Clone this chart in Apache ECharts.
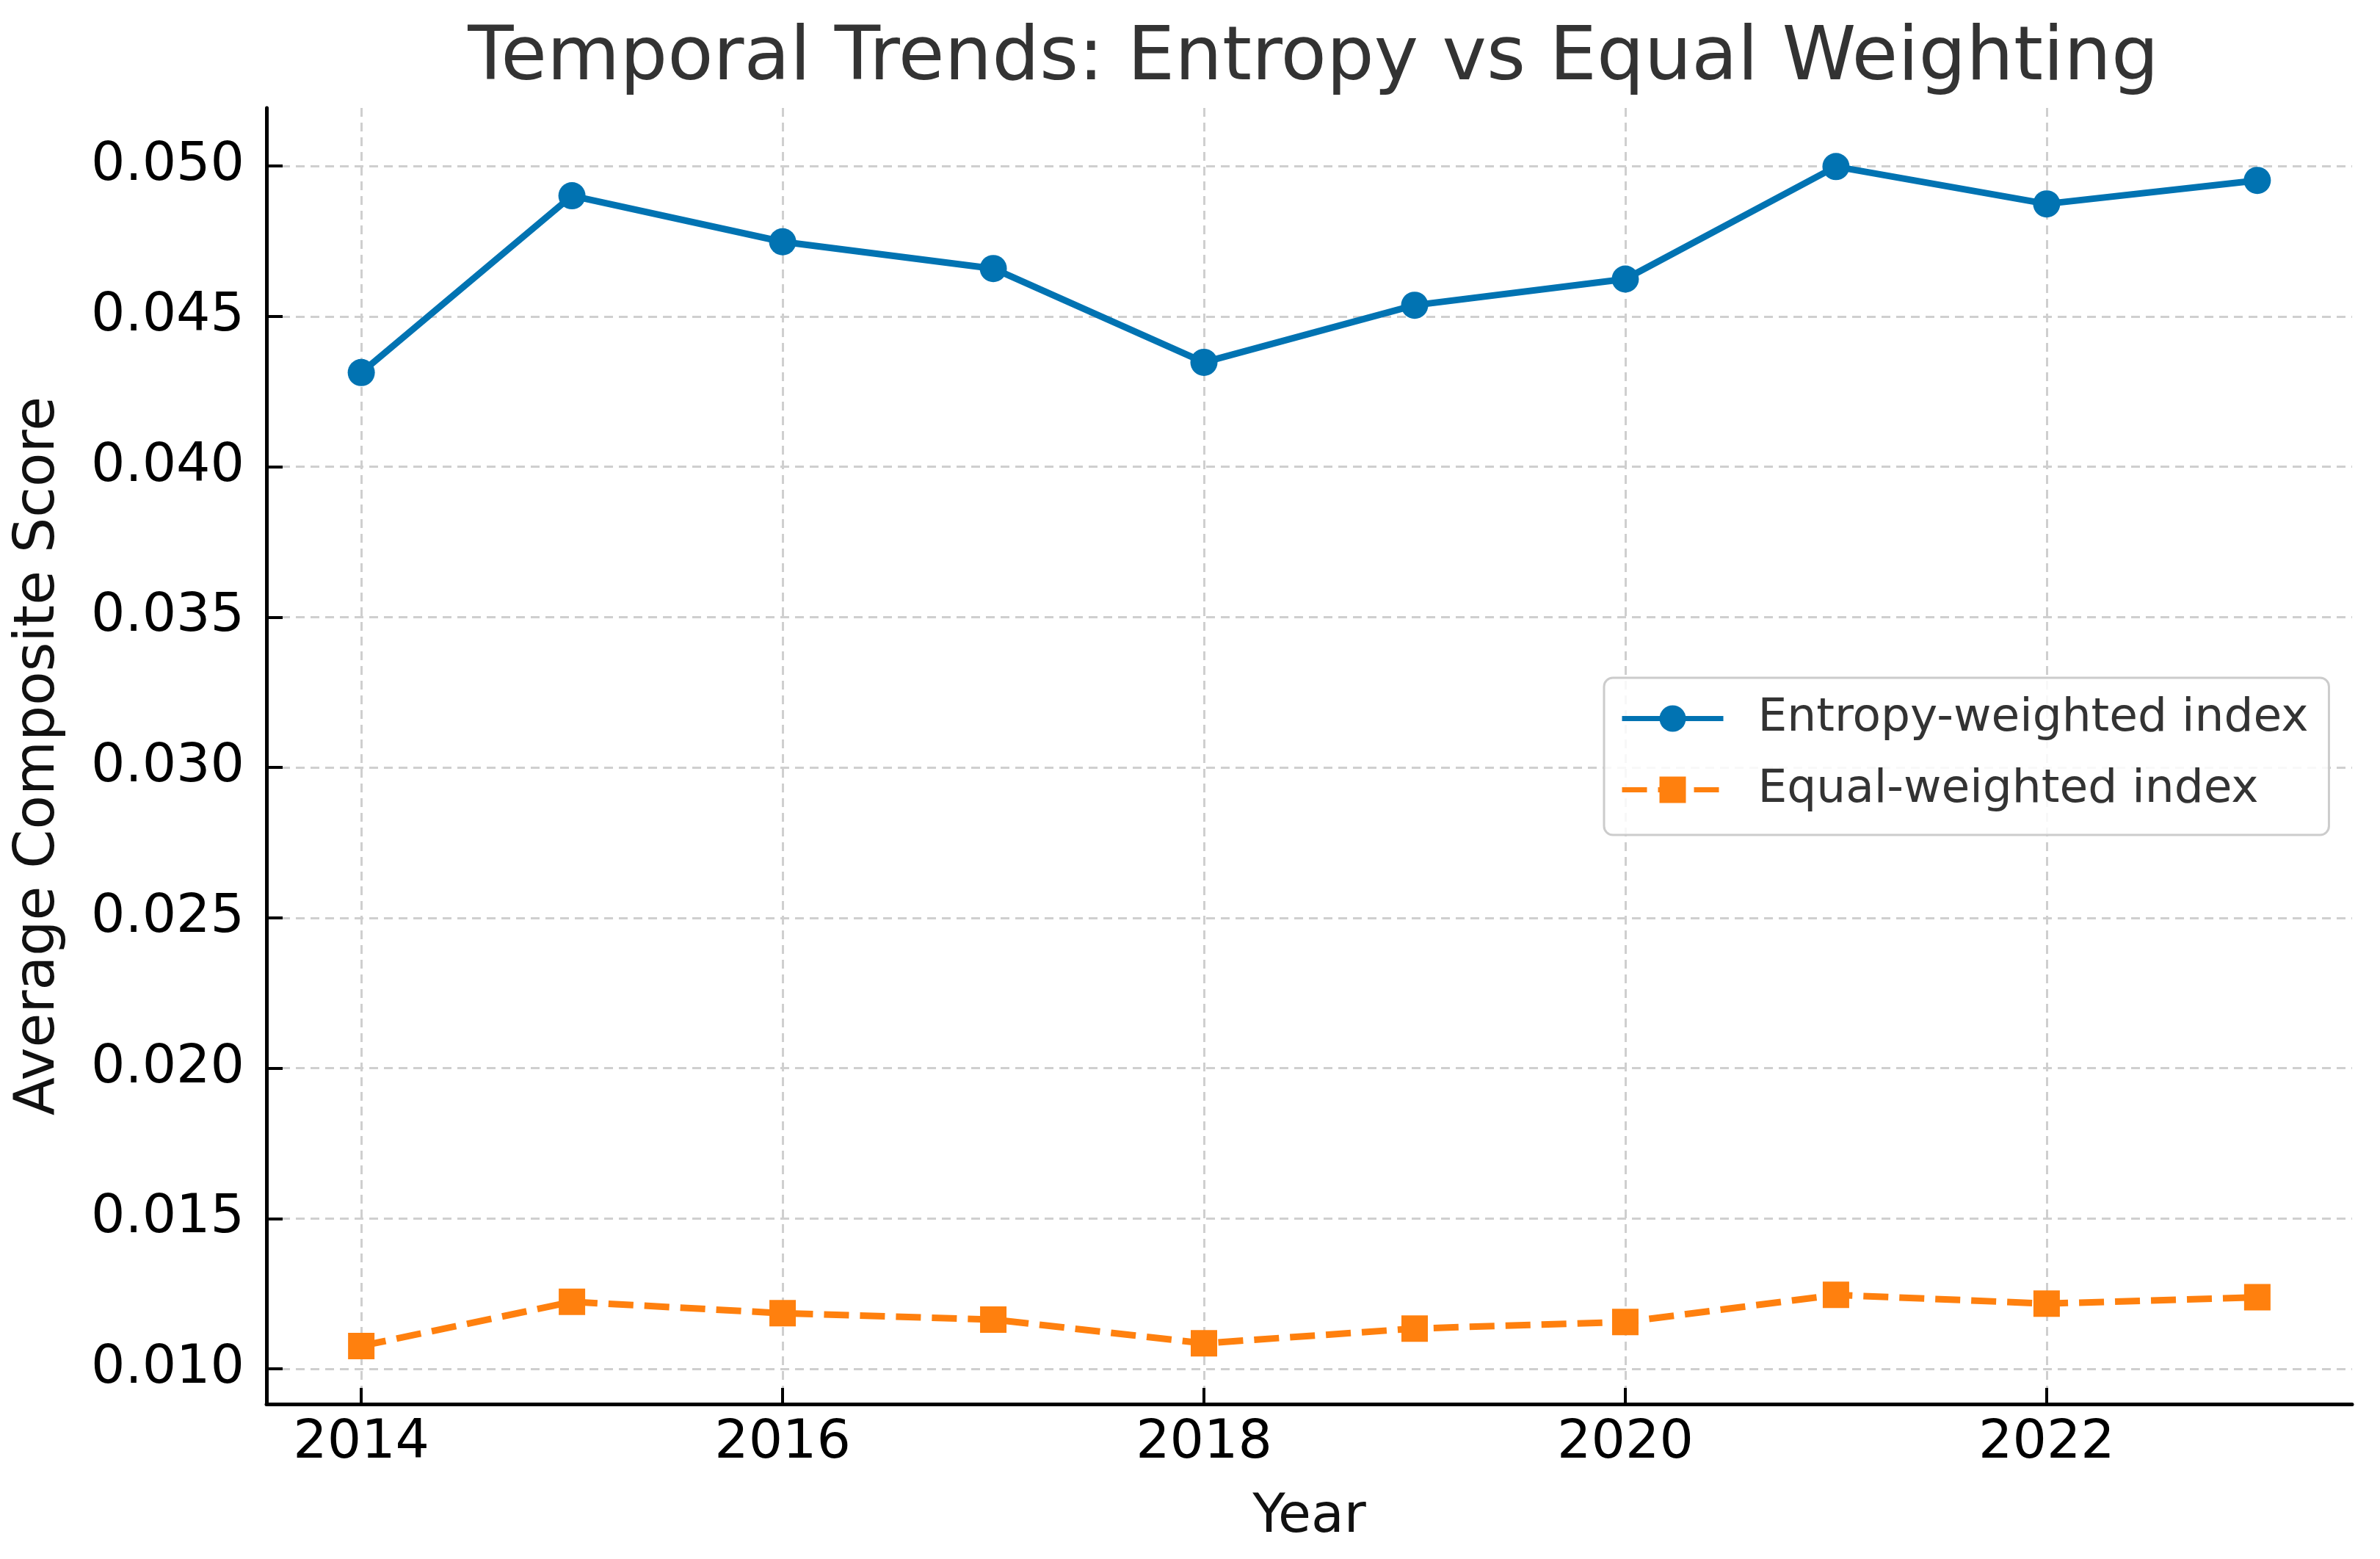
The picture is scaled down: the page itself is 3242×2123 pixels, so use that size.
<!DOCTYPE html>
<html>
<head>
<meta charset="utf-8">
<title>Temporal Trends</title>
<script src="https://cdn.jsdelivr.net/npm/echarts@6/dist/echarts.min.js"></script>
<style>
  html, body { margin: 0; padding: 0; background: #fff; }
  #chart { width: 3242px; height: 2123px; }
</style>
</head>
<body>
<div id="chart"></div>
<script>
// data
var years = [2014, 2015, 2016, 2017, 2018, 2019, 2020, 2021, 2022, 2023];
var entropyScores = [0.04313, 0.04901, 0.04748, 0.04659, 0.04347, 0.04537, 0.04624, 0.04998, 0.04874, 0.04952];
var equalScores = [0.01076, 0.01223, 0.01185, 0.01164, 0.01085, 0.01134, 0.01156, 0.01246, 0.01217, 0.01238];
var yearTicks = [2014, 2016, 2018, 2020, 2022];
var scoreTicks = [0.010, 0.015, 0.020, 0.025, 0.030, 0.035, 0.040, 0.045, 0.050];
var seriesNames = ['Entropy-weighted index', 'Equal-weighted index'];

var FONT = 'DejaVu Sans';

function pairs(xs, ys) {
    var out = [];
    for (var i = 0; i < xs.length; i++) {
        out.push([xs[i], ys[i]]);
    }
    return out;
}

var gridLine = {
    show: true,
    lineStyle: { color: '#cfcfcf', width: 3, type: [12, 8] }
};

var myChart = echarts.init(document.getElementById('chart'), null, { renderer: 'canvas' });

var options = {
    animation: false,
    backgroundColor: '#ffffff',
    title: {
        text: 'Temporal Trends: Entropy vs Equal Weighting',
        left: 1784,
        textAlign: 'center',
        top: 25,
        textStyle: {
            fontFamily: FONT,
            fontSize: 102,
            lineHeight: 102,
            fontWeight: 'normal',
            color: '#333333'
        }
    },
    legend: {
        orient: 'vertical',
        left: 2185,
        top: 923,
        align: 'left',
        data: seriesNames,
        itemWidth: 138,
        itemHeight: 45,
        itemGap: 34,
        padding: [24, 28, 30, 21],
        backgroundColor: 'rgba(255,255,255,0.85)',
        borderColor: '#cccccc',
        borderWidth: 3,
        borderRadius: 12,
        lineStyle: { width: 7 },
        textStyle: {
            fontFamily: FONT,
            fontSize: 63,
            lineHeight: 63,
            color: '#333333',
            padding: [0, 0, 0, 42]
        }
    },
    grid: {
        left: 363,
        right: 38,
        top: 147,
        bottom: 211,
        containLabel: false
    },
    xAxis: {
        type: 'value',
        min: 2013.55,
        max: 2023.45,
        name: 'Year',
        nameLocation: 'middle',
        nameGap: 119,
        nameTextStyle: { fontFamily: FONT, fontSize: 73, lineHeight: 73, color: '#111111' },
        axisLine: { show: true, onZero: false, lineStyle: { color: '#000000', width: 5 } },
        axisTick: { show: true, inside: true, length: 22, customValues: yearTicks, lineStyle: { color: '#000000', width: 4 } },
        axisLabel: {
            customValues: yearTicks,
            margin: 18,
            fontFamily: FONT,
            fontSize: 73,
            lineHeight: 73,
            color: '#000000',
            formatter: function (v) { return String(v); }
        },
        splitLine: gridLine
    },
    yAxis: {
        type: 'value',
        min: 0.00883,
        max: 0.05193,
        name: 'Average Composite Score',
        nameLocation: 'middle',
        nameGap: 272,
        nameRotate: 90,
        nameTextStyle: { fontFamily: FONT, fontSize: 76, lineHeight: 76, color: '#111111' },
        axisLine: { show: true, lineStyle: { color: '#000000', width: 5 } },
        axisTick: { show: true, inside: true, length: 22, customValues: scoreTicks, lineStyle: { color: '#000000', width: 4 } },
        axisLabel: {
            customValues: scoreTicks,
            margin: 30,
            fontFamily: FONT,
            fontSize: 73,
            lineHeight: 73,
            color: '#000000',
            formatter: function (v) { return v.toFixed(3); }
        },
        splitLine: gridLine
    },
    series: [
        {
            name: seriesNames[0],
            type: 'line',
            data: pairs(years, entropyScores),
            symbol: 'circle',
            symbolSize: 37,
            showAllSymbol: true,
            itemStyle: { color: '#0173b2' },
            lineStyle: { color: '#0173b2', width: 9 },
            z: 3
        },
        {
            name: seriesNames[1],
            type: 'line',
            data: pairs(years, equalScores),
            symbol: 'rect',
            symbolSize: 36,
            showAllSymbol: true,
            itemStyle: { color: '#ff800e' },
            lineStyle: { color: '#ff800e', width: 9, type: [34, 15], cap: 'butt' },
            z: 3
        }
    ]
};

myChart.setOption(options);
</script>
</body>
</html>
